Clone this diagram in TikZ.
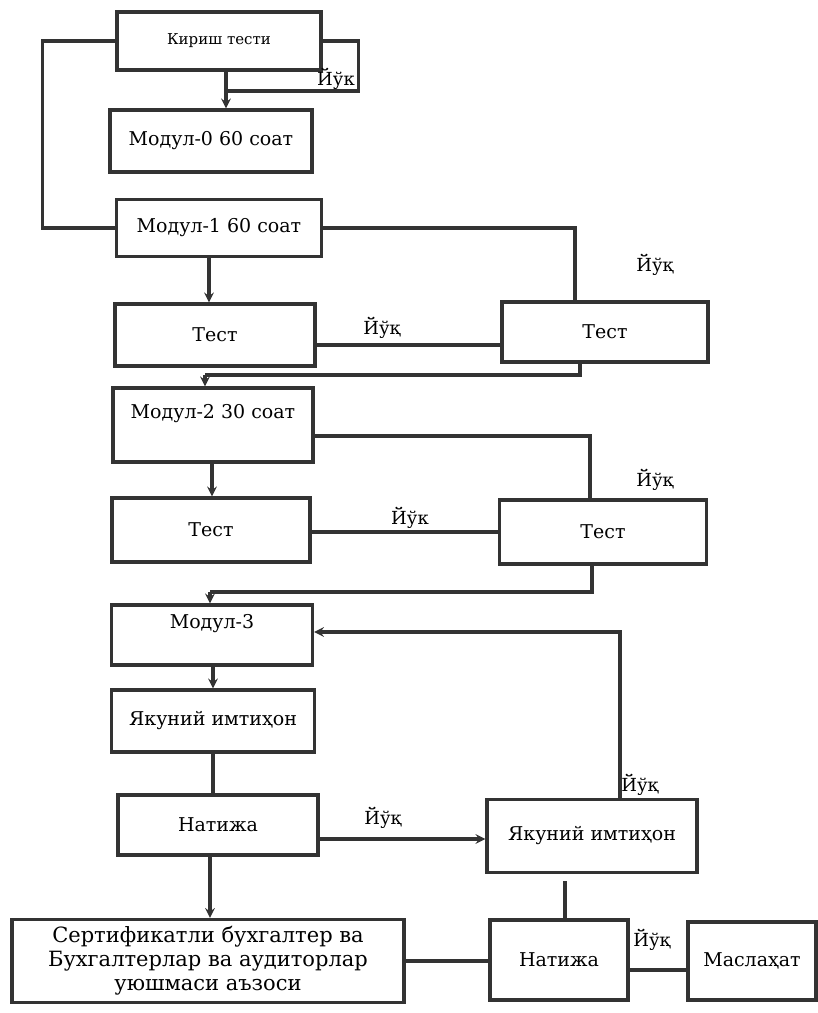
\documentclass[tikz,border=0pt]{standalone}
\usepackage{fontspec}
\setmainfont{DejaVu Serif}
\usetikzlibrary{arrows, positioning}

\begin{document}
\begin{tikzpicture}[
		x=1pt, y=-1pt,
		line width=3.2pt,
		draw=black!80,
		>=stealth,
		box/.style={
				draw=black!80,
				line width=3.4pt,
				minimum width=200pt,
				minimum height=60pt,
				font=\fontsize{19}{22}\selectfont
			},
		no/.style={font=\fontsize{18}{20}\selectfont, inner sep=1pt} % Йўк labels
	]
	\useasboundingbox (0,0) rectangle (818,1013);

	% left column
	\node[box, minimum width=204pt, minimum height=58pt, font=\fontsize{15}{18}\selectfont] (kirish) at (219,41) {Кириш тести};
	\node[box, minimum width=202pt, minimum height=62pt] (modul0) at (211,141) {Модул-0 60 соат};
	\node[box, minimum width=205pt, minimum height=57pt] (modul1) at (219,228) {Модул-1 60 соат};
	\node[box, minimum height=62pt] (test1) at (215,335) {Тест};
	\node[box, minimum height=74pt, text depth=28pt] (modul2) at (213,425) {Модул-2 30 соат};
	\node[box, minimum width=198pt, minimum height=64pt] (test2) at (211,530) {Тест};
	\node[box, minimum width=201pt, text depth=28pt] (modul3) at (212,635) {Модул-3};
	\node[box, minimum width=203pt, minimum height=62pt] (yakuniy) at (213,721) {Якуний имтиҳон};
	\node[box] (natija) at (218,825) {Натижа};
	\node[
		box,
		minimum width=392pt,
		minimum height=83pt,
		align=center,
		inner sep=1pt,
		font=\fontsize{21}{24}\selectfont
	] (sertifikat) at (208,961) {Сертификатли бухгалтер ва\\Бухгалтерлар ва аудиторлар\\уюшмаси аъзоси};

	% right column
	\node[box, minimum width=206pt] (test1r) at (605,332) {Тест};
	\node[box, minimum width=207pt, minimum height=64pt] (test2r) at (603,532) {Тест};
	\node[box, minimum width=210pt, minimum height=73pt] (yakuniyr) at (592,836) {Якуний имтиҳон};
	\node[box, minimum width=138pt, minimum height=80pt] (natijar) at (559,960) {Натижа};
	\node[box, minimum width=128pt, minimum height=78pt] (maslahat) at (752,961) {Маслаҳат};

	% labels
	\node[no] (y1) at (336,79) {Йўк};
	\node[no] (y2) at (655,265) {Йўқ};
	\node[no] (y3) at (382,328) {Йўқ};
	\node[no] (y4) at (655,480) {Йўқ};
	\node[no] (y5) at (410,518) {Йўк};
	\node[no] (y6) at (640,785) {Йўқ};
	\node[no] (y7) at (383,818) {Йўқ};
	\node[no] (y8) at (652,940) {Йўқ};

	\coordinate (kj) at (226,91);
	\coordinate (j1) at (205,375);
	\coordinate (j2) at (210,592);

	% connectors
	\draw (kirish.west) -- ++(-73,0) |- (modul1.west);
	\draw (kirish.east) -- ++(36,0) |- (kj);
	\draw[->] (kirish.south -| kj) -- (modul0.north -| kj);
	\draw (modul1.east) -| ([xshift=-30pt]test1r.north);
	\draw[->] (modul1.south -| 209,0) -- (test1.north -| 209,0);
	\draw ([yshift=-10pt]test1.east) -- ([yshift=-10pt]test1.east -| test1r.west);
	\draw ([xshift=-25pt]test1r.south) |- (j1);
	\draw[->] (j1) -- (j1 |- modul2.north);

	\draw ([yshift=-11pt]modul2.east) -| ([xshift=-13pt]test2r.north);
	\draw[->] (modul2.south -| 212,0) -- (test2.north -| 212,0);
	\draw ([yshift=-2pt]test2.east) -- ([yshift=-2pt]test2.east -| test2r.west);
	\draw ([xshift=-11pt]test2r.south) |- (j2);
	\draw[->] (j2) -- (j2 |- modul3.north);

	\draw[->] ([xshift=28pt]yakuniyr.north) |- ([yshift=3pt]modul3.east);
	\draw[->] (modul3.south -| 213,0) -- (yakuniy.north -| 213,0);
	\draw (yakuniy.south -| 213,0) -- (natija.north -| 213,0);
	\draw[->] ([yshift=-14pt]natija.east) -- ([yshift=-14pt]natija.east -| yakuniyr.west);
	\draw[->] (natija.south -| 210,0) -- (sertifikat.north -| 210,0);
	\draw[shorten <=7pt] ([xshift=-27pt]yakuniyr.south) -- ([xshift=-27pt]yakuniyr.south |- natijar.north);
	\draw (sertifikat.east) -- (sertifikat.east -| natijar.west);
	\draw ([yshift=-10pt]natijar.east) -- ([yshift=-10pt]natijar.east -| maslahat.west);
\end{tikzpicture}
\end{document}
